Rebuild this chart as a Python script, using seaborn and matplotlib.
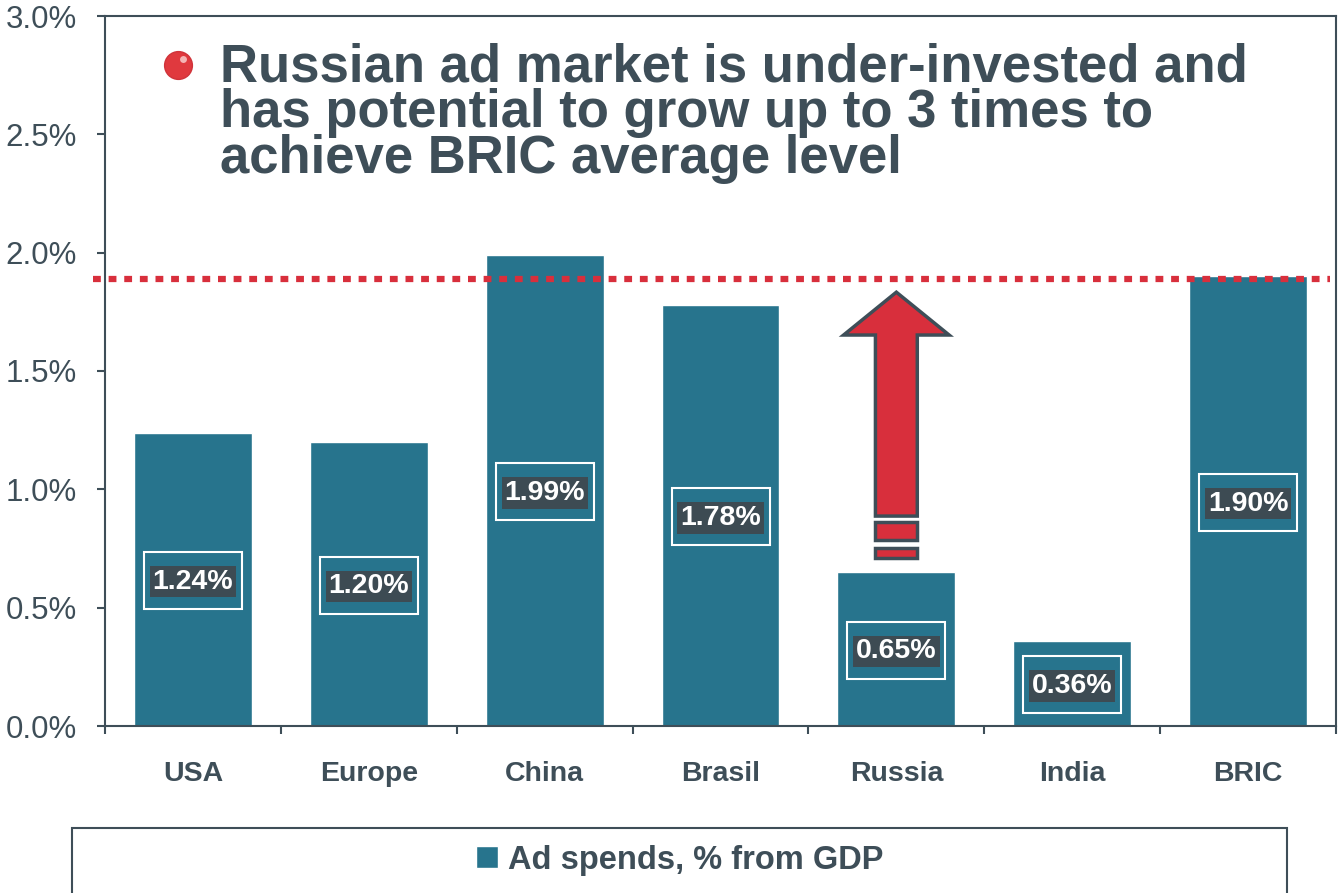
import matplotlib
matplotlib.use("Agg")
import matplotlib.pyplot as plt
import seaborn as sns
from matplotlib.patches import Rectangle
from matplotlib.ticker import FuncFormatter, FixedLocator

# data
categories = ["USA", "Europe", "China", "Brasil", "Russia", "India", "BRIC"]
ad_spend = [1.24, 1.20, 1.99, 1.78, 0.65, 0.36, 1.90]
bric_level = 1.89
series_name = "Ad spends, % from GDP"
headline = "Russian ad market is under-invested and\nhas potential to grow up to 3 times to\nachieve BRIC average level"

bar_color = "#27748d"
dark = "#3e4e58"
red = "#d82f3c"

sns.set_style("white")
plt.rcParams["font.family"] = ["Liberation Sans", "DejaVu Sans"]

fig = plt.figure(figsize=(13.39, 8.93), dpi=100)
ax = fig.add_axes([105 / 1339, 1 - 726 / 893, 1231 / 1339, 710 / 893])

sns.barplot(x=categories, y=ad_spend, color=bar_color, saturation=1,
            width=0.67, label=series_name, ax=ax, zorder=2)

ax.set_xlim(-0.5, len(categories) - 0.5)
ax.set_ylim(0, 3.0)
ax.set_yticks([0, 0.5, 1.0, 1.5, 2.0, 2.5, 3.0])
ax.yaxis.set_major_formatter(FuncFormatter(lambda v, p: f"{v:.1f}%"))
ax.set_xlabel("")
ax.set_ylabel("")

for s in ax.spines.values():
    s.set_color(dark)
    s.set_linewidth(1.5)
ax.tick_params(axis="y", left=True, length=6, width=1.5, color=dark,
               labelsize=22.5, labelcolor=dark, pad=14)
ax.tick_params(axis="x", which="major", length=0, pad=25,
               labelsize=20.5, labelcolor=dark)
for t in ax.get_xticklabels():
    t.set_fontweight("bold")
ax.xaxis.set_minor_locator(FixedLocator([i - 0.5 for i in range(len(categories) + 1)]))
ax.tick_params(axis="x", which="minor", bottom=True, length=6, width=1.5, color=dark)

# value labels at half bar height
for i, v in enumerate(ad_spend):
    ax.text(i, v / 2 - 0.01, f"{v:.2f}%", ha="center", va="center", color="white",
            fontsize=20.5, fontweight="bold", zorder=5,
            bbox=dict(boxstyle="square,pad=0.1", fc="#3d4b53", ec="none"))
    ax.add_patch(Rectangle((i - 0.278, v / 2 - 0.125), 0.557, 0.24,
                           fill=False, ec="white", lw=1.5, zorder=4))

# BRIC average line
ax.axhline(bric_level, xmin=-0.01, xmax=0.995, color=red, lw=4.5,
           dashes=(1.25, 1.25), dash_capstyle="butt", clip_on=False, zorder=3)

# arrow for Russia
ri = categories.index("Russia")
base = ad_spend[ri] + 0.237
ax.arrow(ri, base, 0, bric_level - 0.057 - base, width=0.238, head_width=0.6,
         head_length=0.181, length_includes_head=True, fc=red, ec=dark,
         lw=2.5, zorder=4)
ax.add_patch(Rectangle((ri - 0.119, base - 0.101), 0.238, 0.076,
                       fc=red, ec=dark, lw=2.5, zorder=4))
ax.add_patch(Rectangle((ri - 0.119, base - 0.177), 0.238, 0.042,
                       fc=red, ec=dark, lw=2.5, zorder=4))

# headline with bullet
fig.text(220 / 1339, 1 - 42 / 893, headline, ha="left", va="top",
         fontsize=38, fontweight="bold", color=dark, linespacing=0.9)
fig.lines.append(plt.Line2D([178 / 1339], [1 - 65 / 893], marker="o",
                            markersize=20, color="#e0393e", mec="#d0333a",
                            transform=fig.transFigure))
fig.lines.append(plt.Line2D([183 / 1339], [1 - 59 / 893], marker="o",
                            markersize=5, color="#f4b5b5", mec="none",
                            transform=fig.transFigure))

# legend in framed box
fig.patches.append(Rectangle((72 / 1339, -0.01), 1215 / 1339, 0.01 + 65 / 893,
                             transform=fig.transFigure, fill=False,
                             ec=dark, lw=1.5))
handles, labels = ax.get_legend_handles_labels()
if ax.get_legend() is not None:
    ax.get_legend().remove()
leg = fig.legend(handles[:1], labels[:1], loc="center",
                 bbox_to_anchor=(680 / 1339, 1 - 860 / 893), frameon=False,
                 handlelength=0.67, handleheight=0.67, handletextpad=0.3,
                 prop={"size": 23.5, "weight": "bold"})
for t in leg.get_texts():
    t.set_color(dark)

fig.savefig("out.png", dpi=100)
